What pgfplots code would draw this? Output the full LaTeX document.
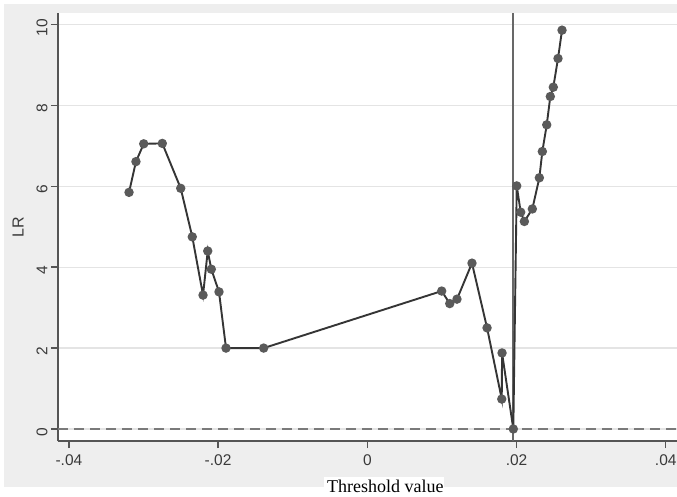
\documentclass[border=0pt]{standalone}
\usepackage{fontspec}
\setmainfont{Liberation Sans}
\newfontfamily\labelserif{Liberation Serif}
\usepackage{pgfplots}
\pgfplotsset{compat=1.18}
\definecolor{bggray}{HTML}{EEEEEE}
\definecolor{gridgray}{HTML}{E4E4E4}
\definecolor{axisgray}{HTML}{555555}
\definecolor{textgray}{HTML}{3A3A3A}
\definecolor{refgray}{HTML}{686868}
\definecolor{dashgray}{HTML}{7A7A7A}
\definecolor{linedark}{HTML}{353535}
\definecolor{markgray}{HTML}{5A5A5A}

\pgfplotstableread{
x        lr
-0.03194 5.85
-0.03101 6.61
-0.02997 7.05
-0.02748 7.06
-0.02501 5.95
-0.02346 4.75
-0.02202 3.31
-0.02139 4.40
-0.02091 3.95
-0.01988 3.39
-0.01894 2.00
-0.01389 2.00
 0.00997 3.41
 0.01105 3.10
 0.01202 3.21
 0.01403 4.10
 0.01605 2.50
 0.01802 0.74
 0.01806 1.88
 0.01957 0.00
 0.02003 6.01
 0.02056 5.36
 0.02105 5.13
 0.02212 5.44
 0.02306 6.21
 0.02346 6.86
 0.02405 7.52
 0.02453 8.22
 0.02493 8.45
 0.02556 9.16
 0.02610 9.86
}\lrdata

\begin{document}
\begin{tikzpicture}
\fill[white] (0,0) rectangle (677pt,-497pt);
\fill[bggray] (4pt,-4pt) rectangle (677pt,-487pt);
\begin{axis}[
  at={(58pt,-441pt)}, anchor=south west,
  scale only axis, width=619pt, height=428pt,
  xmin=-0.04146, xmax=0.04151, ymin=-0.297, ymax=10.284,
  axis background/.style={fill=white},
  axis x line*=bottom, axis y line*=left,
  axis line style={-, color=axisgray, line width=1.4pt},
  tick pos=left, tick align=outside,
  major tick length=7pt,
  every tick/.style={color=axisgray, line width=1.4pt},
  scaled x ticks=false,
  xtick={-0.04,-0.02,0,0.02,0.04},
  xticklabels={-.04,-.02,0,.02,.04},
  ytick={0,2,4,6,8,10},
  yticklabels={0,2,4,6,8,10},
  ticklabel style={font=\fontsize{15.5}{17}\selectfont, text=textgray},
  xticklabel style={yshift=-3pt},
  yticklabel style={rotate=90, anchor=south, xshift=-3pt},
  ymajorgrids,
  major grid style={color=gridgray, line width=1.3pt},
  ylabel={LR},
  ylabel style={at={(rel axis cs:-0.0646,0.5)}, anchor=center,
    font=\fontsize{16}{18}\selectfont, text=textgray},
  xlabel={\hspace{3pt}Threshold value\hspace{12pt}},
  xlabel style={at={(rel axis cs:0.4297,-0.1308)}, anchor=south west,
    fill=white, inner sep=0pt, minimum height=20pt,
    font=\labelserif\fontsize{18}{20}\selectfont, text=black},
]
\addplot[color=dashgray, line width=1.7pt, dash pattern=on 10pt off 6pt]
  coordinates {(-0.04146,0) (0.04151,0)};
\addplot[color=refgray, line width=1.8pt]
  coordinates {(0.01957,-0.297) (0.01957,10.284)};
\addplot[color=linedark, line width=1.9pt, mark=*, mark size=3.7pt,
  mark options={fill=markgray, draw=markgray}]
  table[x=x, y=lr] {\lrdata};
\end{axis}
\pgfresetboundingbox
\useasboundingbox (0,0) rectangle (677pt,-497pt);
\end{tikzpicture}
\end{document}
